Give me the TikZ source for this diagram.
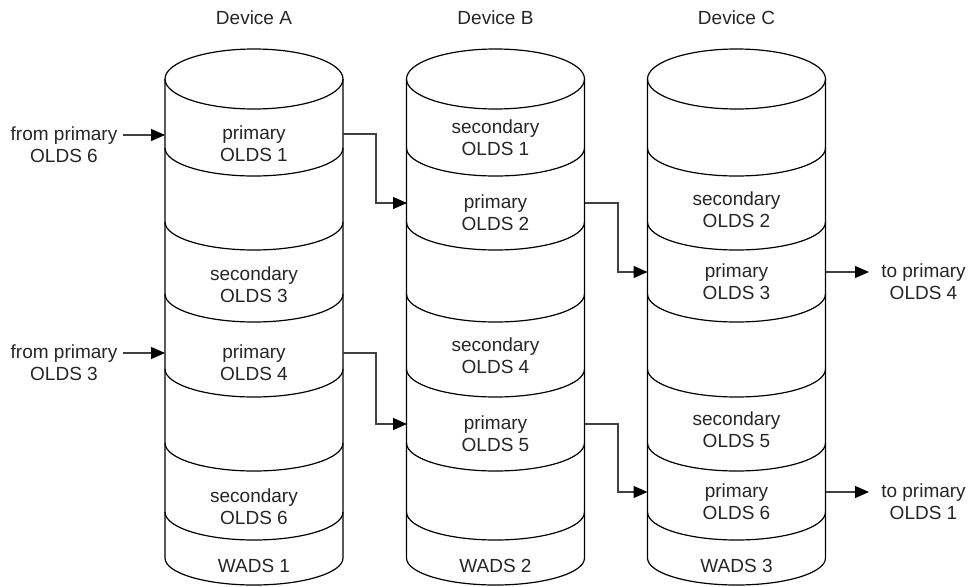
\documentclass[tikz,border=0pt]{standalone}
\usepackage{fontspec}
\setmainfont{Liberation Sans}
\usetikzlibrary{arrows.meta}
\begin{document}
\begin{tikzpicture}[x=1pt,y=-1pt,
  cyl/.style={line width=1.2pt, black},
  lbl/.style={font=\fontsize{19}{22}\selectfont, text=black!85, align=center, inner sep=0pt, anchor=base},
  conn/.style={line width=1.2pt, black!75, -{Triangle[length=14pt,width=12pt,black]}},
]
\fill[white] (0,0) rectangle (968,586);
\useasboundingbox (0,0) rectangle (968,586);
% cylinders
\foreach \cx in {254,495.5,736.5} {
  \draw[cyl] (\cx,79) ellipse [x radius=89pt, y radius=30pt];
  \draw[cyl] (\cx-89,79) -- (\cx-89,558) arc[start angle=180, end angle=360, x radius=89pt, y radius=27pt] -- (\cx+89,79);
  \foreach \y in {148,222,294,369,443,512}
    \draw[cyl] (\cx-89,\y) arc[start angle=180, end angle=360, x radius=89pt, y radius=28pt];
}
% device titles
\node[lbl] (devA) at (254,25) {Device A};
\node[lbl] (devB) at (495.5,25) {Device B};
\node[lbl] (devC) at (736.5,25) {Device C};
% device A
\node[lbl] (a1) at (254,161) {primary\\OLDS 1};
\node[lbl] (a3) at (254,302) {secondary\\OLDS 3};
\node[lbl] (a4) at (254,380) {primary\\OLDS 4};
\node[lbl] (a6) at (254,524) {secondary\\OLDS 6};
\node[lbl] (aw) at (254,572) {WADS 1};
% device B
\node[lbl] (b1) at (495.5,155) {secondary\\OLDS 1};
\node[lbl] (b2) at (495.5,230) {primary\\OLDS 2};
\node[lbl] (b4) at (495.5,373) {secondary\\OLDS 4};
\node[lbl] (b5) at (495.5,451) {primary\\OLDS 5};
\node[lbl] (bw) at (495.5,572) {WADS 2};
% device C
\node[lbl] (c2) at (736.5,227) {secondary\\OLDS 2};
\node[lbl] (c3) at (736.5,299) {primary\\OLDS 3};
\node[lbl] (c5) at (736.5,447) {secondary\\OLDS 5};
\node[lbl] (c6) at (736.5,519) {primary\\OLDS 6};
\node[lbl] (cw) at (736.5,572) {WADS 3};
% outside labels
\node[lbl] (in1) at (64,162) {from primary\\OLDS 6};
\node[lbl] (in2) at (64,380) {from primary\\OLDS 3};
\node[lbl] (out1) at (923.5,299) {to primary\\OLDS 4};
\node[lbl] (out2) at (923.5,519) {to primary\\OLDS 1};
% connection points
\coordinate (in1e) at (123,135);
\coordinate (a1i) at (165,135);
\coordinate (in2e) at (123,353);
\coordinate (a4i) at (165,353);
\coordinate (a1o) at (343,134);
\coordinate (b2i) at (407,203);
\coordinate (a4o) at (343,353);
\coordinate (b5i) at (407,424);
\coordinate (b2o) at (584.5,203);
\coordinate (c3i) at (647.5,272);
\coordinate (b5o) at (584.5,424);
\coordinate (c6i) at (647.5,492);
\coordinate (c3o) at (825.5,272);
\coordinate (out1w) at (869,272);
\coordinate (c6o) at (825.5,492);
\coordinate (out2w) at (869,492);
% connectors
\draw[conn] (in1e) -- (a1i);
\draw[conn] (in2e) -- (a4i);
\draw[conn] (a1o) -- ++(33,0) |- (b2i);
\draw[conn] (a4o) -- ++(33,0) |- (b5i);
\draw[conn] (b2o) -- ++(33.5,0) |- (c3i);
\draw[conn] (b5o) -- ++(33.5,0) |- (c6i);
\draw[conn] (c3o) -- (out1w);
\draw[conn] (c6o) -- (out2w);
\end{tikzpicture}
\end{document}
